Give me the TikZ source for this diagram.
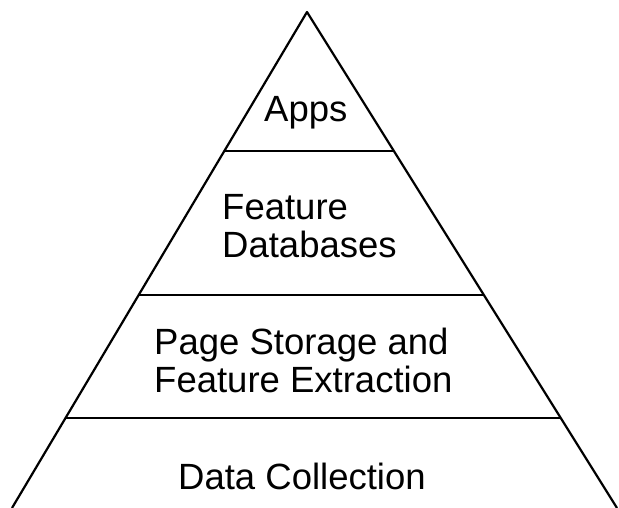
\documentclass[tikz,border=0pt]{standalone}
\usepackage{fontspec}
\setmainfont{Liberation Sans}
\usetikzlibrary{calc}
\usetikzlibrary{positioning}

\begin{document}
\begin{tikzpicture}[
		x=1pt, y=-1pt,
		l/.style = {inner sep=0pt, anchor=base west, align=left, font=\fontsize{36.5}{38}\selectfont},
		e/.style = {line width=2.2pt, line join=round}
		]
		\useasboundingbox (0, 0) rectangle (619, 508);
		
		%Corners
		\coordinate	(top)	at	(307, 12);
		\coordinate	(bl)	at	(12, 508);
		\coordinate	(br)	at	(617, 508);
		
		%Levels
		\coordinate	(l1)	at	($(top)!0.2802!(bl)$);
		\coordinate	(r1)	at	($(top)!0.2802!(br)$);
		\coordinate	(l2)	at	($(top)!0.5706!(bl)$);
		\coordinate	(r2)	at	($(top)!0.5706!(br)$);
		\coordinate	(l3)	at	($(top)!0.8185!(bl)$);
		\coordinate	(r3)	at	($(top)!0.8185!(br)$);
		
		%Lines
		\draw[e]	(bl)	--	(top)	--	(br);
		\draw[e]	(l1)	--	(r1);
		\draw[e]	(l2)	--	(r2);
		\draw[e]	(l3)	--	(r3);
		
		%Labels (base = last line)
		\node[l]	(apps)	at	(264, 122)	{Apps};
		\node[l]	(fdb)	at	(222, 257)	{Feature\\Databases};
		\node[l]	(store)	at	(154, 392)	{Page Storage and\\Feature Extraction};
		\node[l]	(data)	at	(178, 489)	{Data Collection};
	\end{tikzpicture}
\end{document}
